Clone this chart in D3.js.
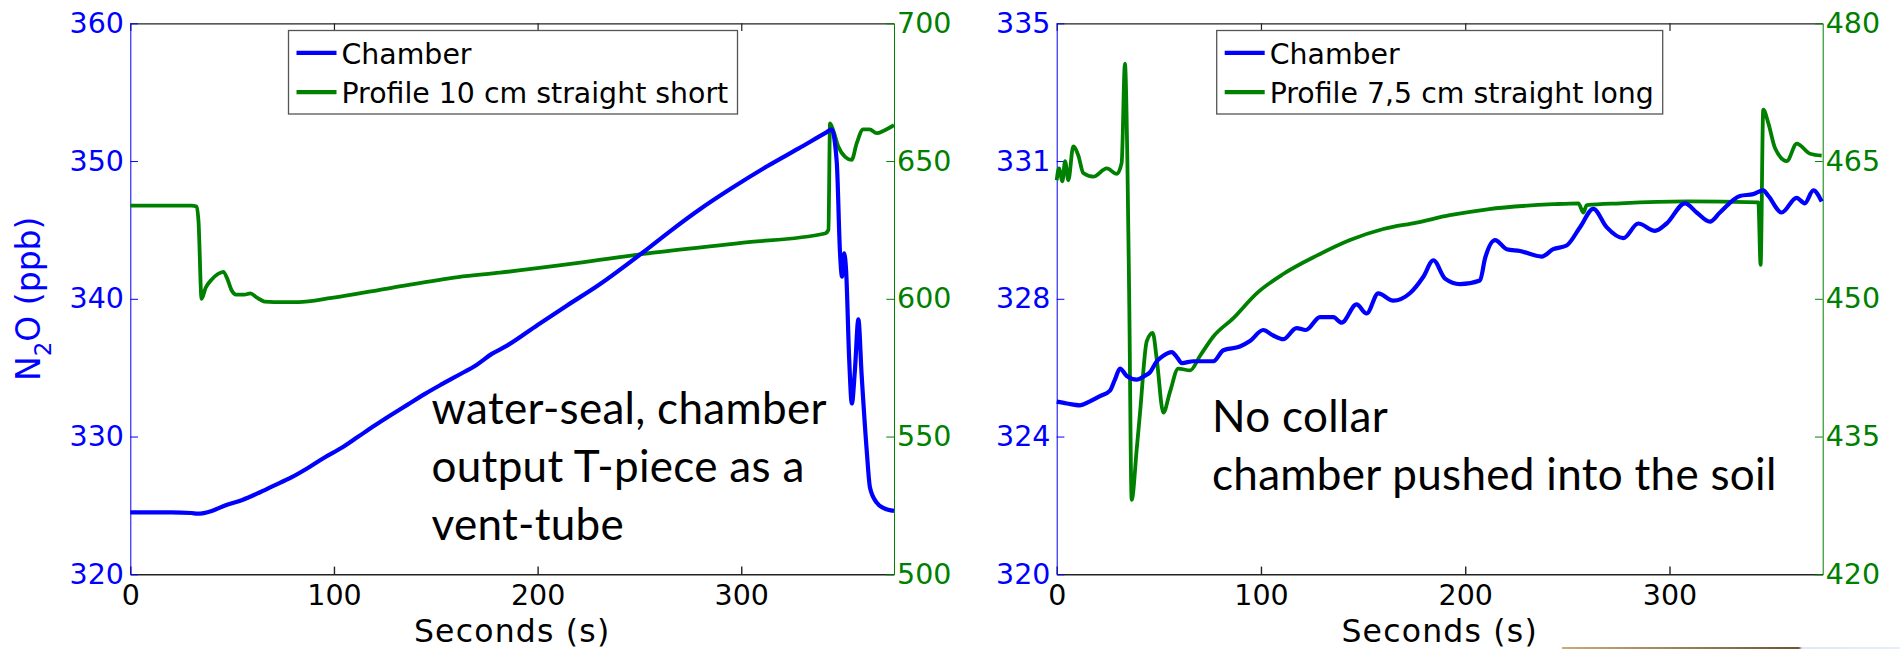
<!DOCTYPE html>
<html>
<head>
<meta charset="utf-8">
<script src="https://cdn.jsdelivr.net/npm/d3@7"></script>
<style>
  body { margin: 0; background: #fff; }
  svg text { font-family: "DejaVu Sans", "Liberation Sans", sans-serif; }
  .note { font-family: Lato, "Open Sans", sans-serif; }
</style>
</head>
<body>
<div id="chart"></div>
<script>
// ---- left panel: water-seal chamber ----
var chamberTimeA = [0, 10, 20, 30, 33, 40, 46.5, 55, 62.9, 70, 79.3, 87, 95.6, 104, 112, 120, 128.4, 136, 144.7, 153, 161, 170, 177.5, 185, 200, 214.3, 230, 252, 265, 279.7, 295, 312.5, 328, 342, 344.4, 346.9, 348.5, 349.5, 350.5, 351.5, 353, 354.3, 355.8, 357.5, 359.1, 361.6, 363.2, 366.5, 370, 375];
var chamberA = [324.5, 324.5, 324.5, 324.45, 324.4, 324.6, 325.0, 325.4, 325.9, 326.4, 327.05, 327.7, 328.5, 329.2, 330.0, 330.8, 331.6, 332.3, 333.1, 333.8, 334.45, 335.2, 336.0, 336.6, 338.1, 339.5, 341.0, 343.4, 344.9, 346.5, 348.0, 349.6, 350.9, 352.1, 352.3, 349.9, 343.3, 341.6, 343.3, 342.0, 335.6, 332.4, 334.8, 338.5, 334.5, 329.0, 326.3, 325.2, 324.8, 324.6];
var profileTimeA = [0, 10, 20, 30, 32.6, 33.5, 35, 37, 40, 43, 45.7, 47.5, 49.8, 52, 56, 59, 62, 66, 75, 82.5, 98.9, 128.3, 161, 181.5, 220, 252, 300, 341.1, 342.8, 343.6, 345.2, 347.7, 351, 354.2, 356.7, 359.9, 363, 366.5, 370, 375];
var profileA = [633.8, 633.8, 633.8, 633.8, 633.5, 628, 600, 604, 607, 609, 609.8, 607.5, 603, 601.5, 601.5, 602, 600.5, 599, 598.8, 598.8, 600.3, 604, 607.9, 609.5, 613, 616.3, 620.3, 623.7, 625, 663.7, 661, 655.2, 651.5, 650.4, 656.5, 661.5, 661.5, 660.1, 661, 663];

// ---- right panel: no collar ----
var chamberTimeB = [0, 5, 11.4, 16, 21.2, 26.1, 28.5, 31, 34.3, 39.2, 43, 45.7, 49, 52.2, 56.3, 59, 61.2, 66.9, 76.7, 81.6, 89.7, 94.6, 101.1, 106, 110.9, 117.4, 122, 128.9, 135.4, 139.5, 146.8, 151.7, 157.4, 164.7, 172.9, 179.5, 184.4, 190.1, 197.4, 207.2, 209.7, 214.6, 220.3, 226.8, 237.4, 243.1, 249.6, 256.2, 262.7, 269.2, 277.4, 284.7, 292.9, 298.6, 307.6, 313.3, 319.8, 324.7, 334.5, 341, 345.9, 348.4, 354.9, 362.2, 366.2, 370.4, 374.5];
var chamberB = [324.7, 324.65, 324.6, 324.7, 324.85, 325.0, 325.3, 325.6, 325.4, 325.3, 325.4, 325.5, 325.8, 325.95, 326.05, 325.9, 325.75, 325.8, 325.8, 326.1, 326.2, 326.35, 326.65, 326.5, 326.4, 326.7, 326.65, 327.0, 327.0, 326.85, 327.35, 327.1, 327.65, 327.45, 327.65, 328.1, 328.55, 328.05, 327.9, 328.0, 328.6, 329.1, 328.85, 328.8, 328.65, 328.85, 328.95, 329.45, 329.95, 329.45, 329.15, 329.55, 329.35, 329.55, 330.1, 329.85, 329.6, 329.85, 330.3, 330.35, 330.45, 330.3, 329.85, 330.25, 330.1, 330.45, 330.15];
var profileTimeB = [0, 1.1, 2.8, 4.1, 5.7, 8.1, 10.6, 13, 17.9, 24.5, 29.4, 31.8, 33.4, 34.6, 35.5, 36.7, 39.2, 40.8, 44.1, 47, 49, 52.2, 55.5, 59.5, 65.3, 70.2, 76.7, 86.5, 97.9, 110.9, 127.3, 143.6, 159.9, 176.2, 192.5, 210.9, 243.1, 255.4, 257.8, 259.5, 275.9, 308.6, 343.5, 344.6, 345.9, 348.4, 351.7, 357.4, 362.3, 368.8, 374.5];
var profileB = [462.9, 464.2, 462.8, 465.0, 462.9, 466.6, 465.6, 463.7, 463.3, 464.2, 463.6, 464.8, 475.6, 465, 450, 428.1, 433.7, 437.6, 445.4, 446.3, 443.4, 437.6, 439.9, 442.4, 442.2, 443.8, 445.9, 447.9, 450.6, 452.7, 454.7, 456.4, 457.6, 458.3, 459.1, 459.75, 460.3, 460.4, 459.4, 460.2, 460.4, 460.6, 460.5, 453.7, 470.6, 469.1, 466.4, 465.0, 466.9, 465.8, 465.6];

// ---- axes / labels ----
var xDomain = [0, 375];
var xTickValues = [0, 100, 200, 300];
var leftTicksA = [320, 330, 340, 350, 360];
var rightTicksA = [500, 550, 600, 650, 700];
var leftTicksB = [320, 323.75, 327.5, 331.25, 335];
var leftTickLabelsB = ["320", "324", "328", "331", "335"];
var rightTicksB = [420, 435, 450, 465, 480];
var legendNamesA = ["Chamber", "Profile 10 cm straight short"];
var legendNamesB = ["Chamber", "Profile 7,5 cm straight long"];
var noteA = ["water-seal, chamber", "output T-piece as a", "vent-tube"];
var noteB = ["No collar", "chamber pushed into the soil"];

window.onload = () => {
  var W = 1900, H = 649;
  var top = 23.3, bottom = 574.3;
  var blue = "#0000ff", green = "#008000";
  var tickFont = 28.5;

  var svg = d3.select("#chart").append("svg")
    .attr("width", W)
    .attr("height", H);

  // tiny strip left over at the bottom right of the original image
  var grad = svg.append("defs").append("linearGradient").attr("id", "strip");
  grad.append("stop").attr("offset", "0%").attr("stop-color", "#c9ab7c");
  grad.append("stop").attr("offset", "70%").attr("stop-color", "#6e5533");
  grad.append("stop").attr("offset", "71%").attr("stop-color", "#dfe8f4");
  grad.append("stop").attr("offset", "100%").attr("stop-color", "#e8eef8");
  svg.append("rect").attr("x", 1562).attr("y", 647).attr("width", 338).attr("height", 2)
    .attr("fill", "url(#strip)");

  function panel(p) {
    var x = d3.scaleLinear().domain(xDomain).range([p.x0, p.x1]);
    var yL = d3.scaleLinear().domain(p.leftDomain).range([bottom, top]);
    var yR = d3.scaleLinear().domain(p.rightDomain).range([bottom, top]);
    var g = svg.append("g");

    // box top / bottom
    g.append("g")
      .attr("transform", "translate(0," + top + ")")
      .call(d3.axisTop(x).tickValues(xTickValues).tickSizeInner(-7.7).tickSizeOuter(0).tickFormat(""))
      .call(a => a.selectAll("path,line").attr("stroke", "#222").attr("stroke-width", 1.2));

    g.append("g")
      .attr("transform", "translate(0," + bottom + ")")
      .call(d3.axisBottom(x).tickValues(xTickValues).tickSizeInner(-7.7).tickSizeOuter(0).tickPadding(10.5))
      .call(a => a.selectAll("path,line").attr("stroke", "#222").attr("stroke-width", 1.4))
      .call(a => a.selectAll("text").attr("font-size", tickFont).attr("fill", "#000"));

    g.append("text")
      .attr("x", (p.x0 + p.x1) / 2)
      .attr("y", 641.5)
      .attr("text-anchor", "middle")
      .attr("font-size", 31.5)
      .attr("letter-spacing", 1.2)
      .text("Seconds (s)");

    // left (blue) axis
    g.append("g")
      .attr("transform", "translate(" + p.x0 + ",0)")
      .call(d3.axisLeft(yL).tickValues(p.leftTicks).tickSizeInner(-7.7).tickSizeOuter(0).tickPadding(6.3)
        .tickFormat((d, i) => p.leftLabels[i]))
      .call(a => a.selectAll("path,line").attr("stroke", blue).attr("stroke-width", 1))
      .call(a => a.selectAll("text").attr("font-size", tickFont).attr("fill", blue));

    // right (green) axis
    g.append("g")
      .attr("transform", "translate(" + p.x1 + ",0)")
      .call(d3.axisRight(yR).tickValues(p.rightTicks).tickSizeInner(-7.7).tickSizeOuter(0).tickPadding(3)
        .tickFormat(d3.format("d")))
      .call(a => a.selectAll("path,line").attr("stroke", green).attr("stroke-width", 1))
      .call(a => a.selectAll("text").attr("font-size", tickFont).attr("fill", green));

    // series
    var lineL = d3.line().x(d => x(d[0])).y(d => yL(d[1])).curve(d3.curveMonotoneX);
    var lineR = d3.line().x(d => x(d[0])).y(d => yR(d[1])).curve(d3.curveMonotoneX);

    g.append("path")
      .datum(d3.zip(p.profileTime, p.profile))
      .attr("fill", "none")
      .attr("stroke", green)
      .attr("stroke-width", 3.8)
      .attr("stroke-linejoin", "round")
      .attr("d", lineR);

    g.append("path")
      .datum(d3.zip(p.chamberTime, p.chamber))
      .attr("fill", "none")
      .attr("stroke", blue)
      .attr("stroke-width", 4.2)
      .attr("stroke-linejoin", "round")
      .attr("d", lineL);

    // legend
    var lg = g.append("g").attr("transform", "translate(" + p.legendX + ",30.5)");
    lg.append("rect")
      .attr("width", p.legendW)
      .attr("height", 83.5)
      .attr("fill", "#fff")
      .attr("stroke", "#555")
      .attr("stroke-width", 1.3);
    [blue, green].forEach((c, i) => {
      lg.append("line")
        .attr("x1", 8).attr("x2", 48)
        .attr("y1", 22.4 + i * 39.3).attr("y2", 22.4 + i * 39.3)
        .attr("stroke", c)
        .attr("stroke-width", 4.2);
      lg.append("text")
        .attr("x", 53)
        .attr("y", 33.1 + i * 39.3)
        .attr("font-size", 28.4)
        .text(p.legendNames[i]);
    });

    // note, one text per line
    p.note.forEach((s, i) => {
      g.append("text")
        .attr("class", "note")
        .attr("x", p.noteX)
        .attr("y", p.noteY + i * 57.8)
        .attr("font-size", p.noteSize)
        .attr("letter-spacing", 0.3)
        .attr("fill", "#000")
        .text(s);
    });
  }

  panel({
    x0: 130.3, x1: 894,
    leftDomain: [320, 360], rightDomain: [500, 700],
    leftTicks: leftTicksA, leftLabels: leftTicksA.map(String), rightTicks: rightTicksA,
    chamberTime: chamberTimeA, chamber: chamberA,
    profileTime: profileTimeA, profile: profileA,
    legendX: 288.5, legendW: 449, legendNames: legendNamesA,
    note: noteA, noteX: 431.5, noteY: 424, noteSize: 44
  });

  panel({
    x0: 1056.7, x1: 1822.7,
    leftDomain: [320, 335], rightDomain: [420, 480],
    leftTicks: leftTicksB, leftLabels: leftTickLabelsB, rightTicks: rightTicksB,
    chamberTime: chamberTimeB, chamber: chamberB,
    profileTime: profileTimeB, profile: profileB,
    legendX: 1216.7, legendW: 446, legendNames: legendNamesB,
    note: noteB, noteX: 1212, noteY: 431.7, noteSize: 44
  });

  // y label of the left panel: N2O (ppb)
  var yl = svg.append("text")
    .attr("transform", "translate(40,298.8) rotate(-90)")
    .attr("text-anchor", "middle")
    .attr("font-size", 33)
    .attr("fill", blue);
  yl.append("tspan").text("N");
  yl.append("tspan").attr("font-size", 23).attr("dy", 11).text("2");
  yl.append("tspan").attr("dy", -11).text("O (ppb)");
};
</script>
</body>
</html>
